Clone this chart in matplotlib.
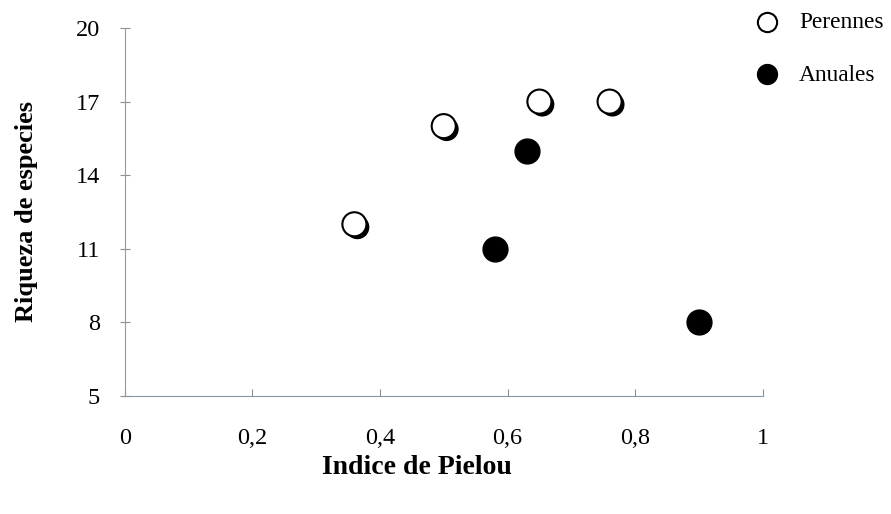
import matplotlib.pyplot as plt
import matplotlib.patheffects as pe

plt.rcParams['font.family'] = ['Liberation Serif', 'DejaVu Serif']

# Indice de Pielou vs riqueza de especies
per_x = [0.36, 0.50, 0.65, 0.76]
per_y = [12, 16, 17, 17]
anu_x = [0.58, 0.63, 0.90]
anu_y = [11, 15, 8]

x_ticks = [0, 0.2, 0.4, 0.6, 0.8, 1]
x_labels = ['0', '0,2', '0,4', '0,6', '0,8', '1']
y_ticks = [5, 8, 11, 14, 17, 20]

fig = plt.figure(figsize=(8.91, 5.14), dpi=100)
ax = fig.add_axes([0.140, 0.2296, 0.716, 0.7159])

shadow = [pe.SimplePatchShadow(offset=(2.1, -2.1), shadow_rgbFace='black', alpha=1), pe.Normal()]
ax.scatter(per_x, per_y, s=300, facecolor='white', edgecolor='black', linewidth=1.5,
           path_effects=shadow, zorder=3, label='Perennes')
ax.scatter(anu_x, anu_y, s=320, color='black', zorder=3, label='Anuales')

ax.set_xlim(0, 1)
ax.set_ylim(5, 20)
ax.set_xticks(x_ticks)
ax.set_xticklabels(x_labels)
ax.set_yticks(y_ticks)
ax.tick_params(axis='both', labelsize=17.5, color='#8a8f9a')
ax.tick_params(axis='x', direction='in', length=5, pad=23)
ax.tick_params(axis='y', direction='inout', length=7, pad=14.5)

for s in ['top', 'right']:
    ax.spines[s].set_visible(False)
ax.spines['left'].set_color('#9a9a9a')
ax.spines['bottom'].set_color('#8a95a8')

ax.set_xlabel('Indice de Pielou', fontsize=20, fontweight='bold')
ax.xaxis.set_label_coords(0.458, -0.16)
ax.set_ylabel('Riqueza de especies', fontsize=19, fontweight='bold', labelpad=27)

leg = ax.legend(loc='upper left', bbox_to_anchor=(0.989, 1.045), frameon=False, fontsize=16.8,
                labelspacing=1.35, handlelength=1.0, handletextpad=0.86, borderpad=0,
                borderaxespad=0, markerscale=0.8)
leg.legend_handles[0].set_path_effects([])

fig.savefig('out.png', dpi=100)
